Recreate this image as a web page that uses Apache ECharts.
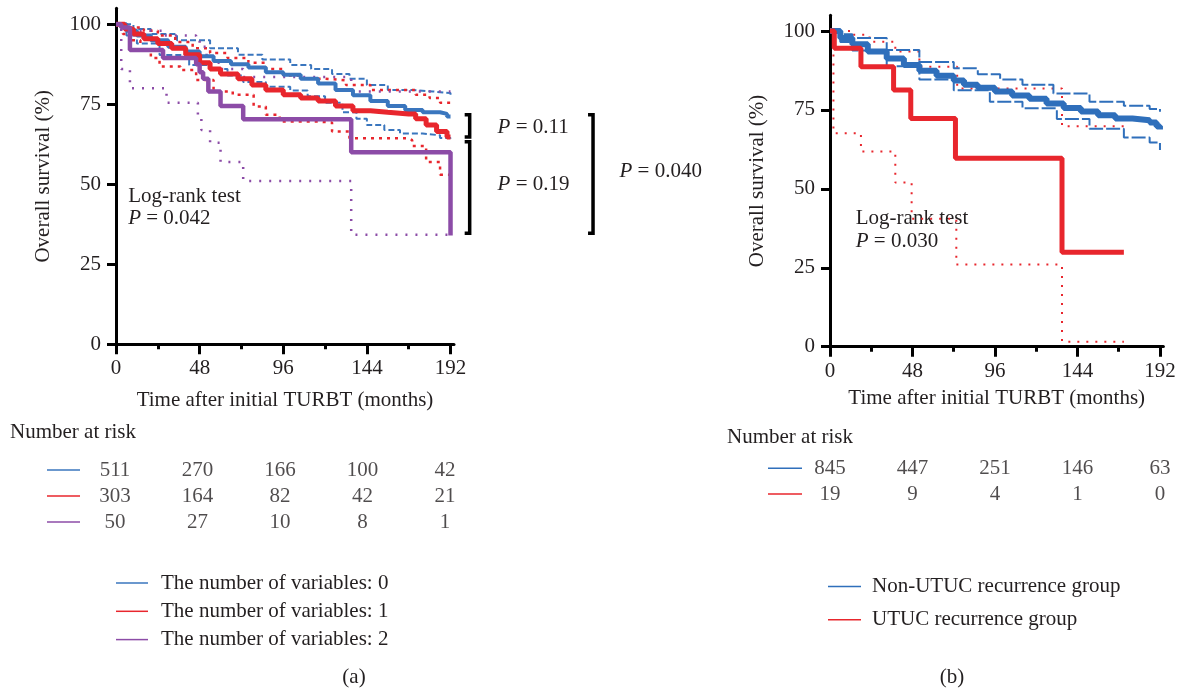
<!DOCTYPE html>
<html><head><meta charset="utf-8">
<script src="https://cdn.jsdelivr.net/npm/echarts@6/dist/echarts.min.js"></script>
<style>html,body{margin:0;padding:0;background:#fff}#c{width:1181px;height:690px}</style>
</head><body><div id="c"></div>
<script>
const FONT = '"Liberation Serif", "DejaVu Serif", serif';
const FS = 21;
const TXT = '#231f20';
const riskTimes = [0, 48, 96, 144, 192];
const xTicks = [0, 48, 96, 144, 192];
const xMinorTicks = [24, 72, 120, 168];
const yTicks = [0, 25, 50, 75, 100];

// ---------- Panel (a) ----------
const aNames = ['The number of variables: 0', 'The number of variables: 1', 'The number of variables: 2'];
const aBlue = [[0,100],[6,98],[12,96.5],[20,95],[30,93],[40,91.5],[48,90],[56,88.5],[66,87.5],[76,86.5],[86,85],[96,84.2],[106,83],[116,81.5],[126,79.5],[136,77.8],[146,76],[156,74.5],[166,73.2],[176,72.5],[186,72],[190,71.2],[192,71]];
const aBlueUp = [[0,100],[10,98.5],[20,97],[35,95],[54,92.5],[70,90.5],[84,89],[100,87.3],[112,86],[124,84.5],[134,83],[144,81],[156,79.5],[170,79],[182,78.5],[192,77.4]];
const aBlueLo = [[0,100],[6,96.5],[12,94],[25,90.4],[42,87.3],[54,86],[64,84],[73,82],[86,80.5],[100,79.3],[110,77.5],[120,75.5],[130,72.5],[138,70.5],[144,68.5],[154,67],[163,65.9],[176,65.3],[186,64.5],[192,63.8]];
const aRed = [[0,100],[5,98.5],[10,97],[16,95.5],[24,94],[32,92.5],[40,90.5],[48,88],[54,86],[60,84.5],[70,83],[78,81],[86,79.5],[96,78],[106,77],[116,76],[126,74.5],[136,73],[146,72.5],[156,72],[168,72],[172,70.5],[178,68.5],[184,66.5],[190,64.8],[192,64.7]];
const aRedUp = [[0,100],[8,99],[16,98],[24,96.5],[34,94.5],[44,92.5],[54,91],[64,89.5],[76,88],[86,86],[96,84],[106,83],[120,82.5],[132,81],[146,79.5],[160,79.5],[172,78],[180,77],[186,75.5],[192,74.5]];
const aRedLo = [[0,100],[4,97],[8,95],[14,92],[20,89.5],[25,86.8],[37,85.7],[46,82.6],[56,79],[67,78],[79,74.3],[86,71.7],[94,69.6],[116,69.3],[124,66.5],[134,64.4],[168,63.8],[170,62],[178,57],[186,53],[192,52.8]];
const aPurple = [[0,100],[3,99],[8,92],[27,89.5],[46,87.5],[48,85],[50,83],[53,79],[60,74.5],[73,70.3],[135,60],[192,60],[192,34]];
const aPurpleUp = [[0,100],[8,98],[27,96.5],[46,95],[48,93],[52,90],[56,88],[60,86],[73,83.5],[135,79],[192,79]];
const aPurpleLo = [[0,100],[3,86],[8,80],[29,75.5],[47,71],[49,67],[54,63],[60,57],[73,51],[135,34.2],[192,34.2]];
const aRisk0 = [511, 270, 166, 100, 42];
const aRisk1 = [303, 164, 82, 42, 21];
const aRisk2 = [50, 27, 10, 8, 1];
const aLogRank = ['Log-rank test', '0.042'];
const aPairP = ['0.11', '0.19', '0.040'];

// ---------- Panel (b) ----------
const bNames = ['Non-UTUC recurrence group', 'UTUC recurrence group'];
const bBlue = [[0,100],[6,97.8],[13,95.8],[22,93.5],[33,91.3],[43,89.2],[52,87.4],[62,85.8],[72,84.3],[78,83],[86,82],[96,80.8],[106,79.6],[116,78.5],[126,77],[136,75.6],[146,74.5],[156,73.3],[166,72.3],[176,71.7],[186,71],[190,69.8],[192,68.8]];
const bBlueUp = [[0,100],[6,99],[13,97.8],[33,94],[52,90.2],[72,88.2],[86,86.3],[99,84.6],[112,83],[130,80.2],[151,77.6],[171,76.3],[186,75.3],[192,74.4]];
const bBlueLo = [[0,100],[6,96.5],[13,93.8],[33,88.8],[52,84.6],[72,81.2],[93,77.6],[112,75.5],[132,72.1],[151,69],[171,66.3],[186,64.7],[192,62.3]];
const bRed = [[0,100],[2.5,94.5],[18,88.7],[37,81.3],[47,72.3],[73,59.7],[135,29.9],[171,29.9]];
const bRedUp = [[0,100],[12,98.8],[23,96.6],[38,93.5],[52,88.7],[74,81.8],[135,69.8],[171,69.8]];
const bRedLo = [[0,100],[2,67.6],[18,61.8],[38,52],[47.5,40.5],[73.5,26],[135,1.6],[171,1.6]];
const bRisk0 = [845, 447, 251, 146, 63];
const bRisk1 = [19, 9, 4, 1, 0];
const bLogRank = ['Log-rank test', '0.030'];

const C = { blue: '#3a76be', red: '#e8262d', purple: '#8c4ca7', bBlue: '#2f6fbb' };

const chart = echarts.init(document.getElementById('c'), null, { renderer: 'canvas' });

function stepLine(name, data, color, width, type, xi, yi, z) {
  return { type: 'line', name, data, step: 'end', showSymbol: false, symbol: 'none',
    xAxisIndex: xi, yAxisIndex: yi, lineStyle: { color, width, type, cap: 'butt' },
    itemStyle: { color }, z: z, silent: true, animation: false };
}
function mainX(gi, gap) {
  return { type: 'value', gridIndex: gi, min: 0, max: 194,
    axisLine: { show: true, onZero: false, lineStyle: { color: '#000', width: 3 } },
    axisTick: { show: true, customValues: xTicks, length: 10, lineStyle: { color: '#000', width: 3 } },
    axisLabel: { customValues: xTicks, fontSize: FS, fontFamily: FONT, color: TXT, margin: 14 },
    splitLine: { show: false },
    name: 'Time after initial TURBT (months)', nameLocation: 'middle', nameGap: gap,
    nameTextStyle: { fontSize: FS, fontFamily: FONT, color: TXT } };
}
function minorX(gi) {
  return { type: 'value', gridIndex: gi, min: 0, max: 194, position: 'bottom',
    axisLine: { show: false }, axisLabel: { show: false }, splitLine: { show: false },
    axisTick: { show: true, customValues: xMinorTicks, length: 5, lineStyle: { color: '#000', width: 3 } } };
}
function mainY(gi) {
  return { type: 'value', gridIndex: gi, min: 0, max: 105,
    axisLine: { show: true, onZero: false, lineStyle: { color: '#000', width: 3 } },
    axisTick: { show: true, customValues: yTicks, length: 9, lineStyle: { color: '#000', width: 3 } },
    axisLabel: { customValues: yTicks, fontSize: FS, fontFamily: FONT, color: TXT, margin: 15 },
    splitLine: { show: false },
    name: 'Overall survival (%)', nameLocation: 'middle', nameGap: 62, nameRotate: 90,
    nameTextStyle: { fontSize: FS, fontFamily: FONT, color: TXT } };
}
function hiddenX(gi) { return { type: 'value', gridIndex: gi, min: 0, max: 194, show: false }; }
function hiddenY(gi, n) { return { type: 'category', gridIndex: gi, data: Array.from({ length: n }, (_, i) => String(i)), inverse: true, show: false }; }
function riskSeries(rows, xi, yi) {
  const data = [];
  rows.forEach((r, ri) => r.forEach((v, ci) => data.push([riskTimes[ci], ri, v])));
  return { type: 'scatter', xAxisIndex: xi, yAxisIndex: yi, data, symbolSize: 1,
    itemStyle: { color: 'rgba(0,0,0,0)' }, silent: true, animation: false,
    label: { show: true, position: 'inside', formatter: p => String(p.value[2]),
      fontSize: FS, fontFamily: FONT, color: TXT } };
}

const option = {
  backgroundColor: '#fff',
  animation: false,
  grid: [
    { left: 116, top: 8.3, width: 338, height: 336 },
    { left: 830, top: 15.2, width: 333.4, height: 331.5 },
    { left: 115, top: 457, width: 333.4, height: 78 },
    { left: 830, top: 455.5, width: 333.4, height: 51.4 }
  ],
  xAxis: [mainX(0, 46), minorX(0), mainX(1, 41), minorX(1), hiddenX(2), hiddenX(3)],
  yAxis: [mainY(0), mainY(1), hiddenY(2, 3), hiddenY(3, 2)],
  legend: [
    { data: aNames, orient: 'vertical', left: 116, top: 572.5, padding: 0, icon: 'rect', itemWidth: 32, itemHeight: 1.5,
      itemGap: 7.3, selectedMode: false,
      textStyle: { fontSize: FS, lineHeight: 21, fontFamily: FONT, color: TXT, padding: [0, 0, 0, 8] } },
    { data: bNames, orient: 'vertical', left: 828, top: 576, padding: 0, icon: 'rect', itemWidth: 33, itemHeight: 1.5,
      itemGap: 12.3, selectedMode: false,
      textStyle: { fontSize: FS, lineHeight: 21, fontFamily: FONT, color: TXT, padding: [0, 0, 0, 6] } }
  ],
  series: [
    stepLine('a0up', aBlueUp, C.blue, 2, [6, 3], 0, 0, 2),
    stepLine('a0lo', aBlueLo, C.blue, 2, [6, 3], 0, 0, 2),
    stepLine('a1up', aRedUp, C.red, 2.5, [3, 5], 0, 0, 2),
    stepLine('a1lo', aRedLo, C.red, 2.5, [3, 5], 0, 0, 2),
    stepLine('a2up', aPurpleUp, C.purple, 2.5, [2, 8], 0, 0, 2),
    stepLine('a2lo', aPurpleLo, C.purple, 2.5, [2, 8], 0, 0, 2),
    stepLine(aNames[0], aBlue, C.blue, 4, 'solid', 0, 0, 4),
    stepLine(aNames[1], aRed, C.red, 5, 'solid', 0, 0, 5),
    stepLine(aNames[2], aPurple, C.purple, 4.5, 'solid', 0, 0, 6),

    stepLine('b1up', bRedUp, C.red, 2, [2, 7], 2, 1, 2),
    stepLine('b1lo', bRedLo, C.red, 2, [2, 7], 2, 1, 2),
    stepLine('b0up', bBlueUp, C.bBlue, 2, [14, 3], 2, 1, 3),
    stepLine('b0lo', bBlueLo, C.bBlue, 2, [14, 3], 2, 1, 3),
    stepLine(bNames[0], bBlue, C.bBlue, 6, 'solid', 2, 1, 4),
    stepLine(bNames[1], bRed, C.red, 5, 'solid', 2, 1, 5),

    riskSeries([aRisk0, aRisk1, aRisk2], 4, 2),
    riskSeries([bRisk0, bRisk1], 5, 3)
  ]
};
chart.setOption(option);

// ---------- annotations positioned through the axes ----------
const PA = pt => chart.convertToPixel({ xAxisIndex: 0, yAxisIndex: 0 }, pt);
const PB = pt => chart.convertToPixel({ xAxisIndex: 2, yAxisIndex: 1 }, pt);
const TA = pt => chart.convertToPixel({ xAxisIndex: 4, yAxisIndex: 2 }, pt);
const TB = pt => chart.convertToPixel({ xAxisIndex: 5, yAxisIndex: 3 }, pt);

function text(x, y, str, align) {
  return { type: 'text', x, y, silent: true,
    style: { text: str, fontSize: FS, fontFamily: FONT, fill: TXT, align: align || 'left', verticalAlign: 'middle',
      rich: { it: { fontStyle: 'italic', fontSize: FS, fontFamily: FONT, fill: TXT } } } };
}
function bracket(x, y1, y2) {
  return { type: 'polyline', silent: true,
    shape: { points: [[x - 5, y1], [x, y1], [x, y2], [x - 5, y2]] },
    style: { stroke: '#000', lineWidth: 3.5, fill: null } };
}
function rowLine(x1, x2, y, color) {
  return { type: 'line', silent: true, shape: { x1, y1: y, x2, y2: y }, style: { stroke: color, lineWidth: 1.5 } };
}

const g = [];
// Panel a text
let p = PA([7, 46.3]); g.push(text(p[0], p[1], aLogRank[0]));
p = PA([7, 39.2]); g.push(text(p[0], p[1], '{it|P} = ' + aLogRank[1]));
// brackets
const b1t = PA([203, 71.7]), b1b = PA([203, 64.8]);
g.push(bracket(b1t[0], b1t[1], b1b[1]));
const b2t = PA([203, 63.3]), b2b = PA([203, 34.7]);
g.push(bracket(b2t[0], b2t[1], b2b[1]));
const b3t = PA([273.8, 71.7]), b3b = PA([273.8, 34.7]);
g.push(bracket(b3t[0], b3t[1], b3b[1]));
p = PA([219, 67.6]); g.push(text(p[0], p[1], '{it|P} = ' + aPairP[0]));
p = PA([219, 49.8]); g.push(text(p[0], p[1], '{it|P} = ' + aPairP[1]));
p = PA([289, 53.9]); g.push(text(p[0], p[1], '{it|P} = ' + aPairP[2]));
// Panel b text
p = PB([15, 40.7]); g.push(text(p[0], p[1], bLogRank[0]));
p = PB([15, 33.3]); g.push(text(p[0], p[1], '{it|P} = ' + bLogRank[1]));

// tables
const ta0 = TA([0, 0]);
g.push(text(10, 432, 'Number at risk'));
[C.blue, C.red, C.purple].forEach((c, i) => { const q = TA([0, i]); g.push(rowLine(ta0[0] - 68, ta0[0] - 35, q[1], c)); });
const tb0 = TB([0, 0]);
g.push(text(727, 437, 'Number at risk'));
[C.bBlue, C.red].forEach((c, i) => { const q = TB([0, i]); g.push(rowLine(tb0[0] - 62, tb0[0] - 28, q[1], c)); });

g.push(text(354, 677, '(a)', 'center'));
g.push(text(952, 677, '(b)', 'center'));

chart.setOption({ graphic: g });
</script>
</body></html>
